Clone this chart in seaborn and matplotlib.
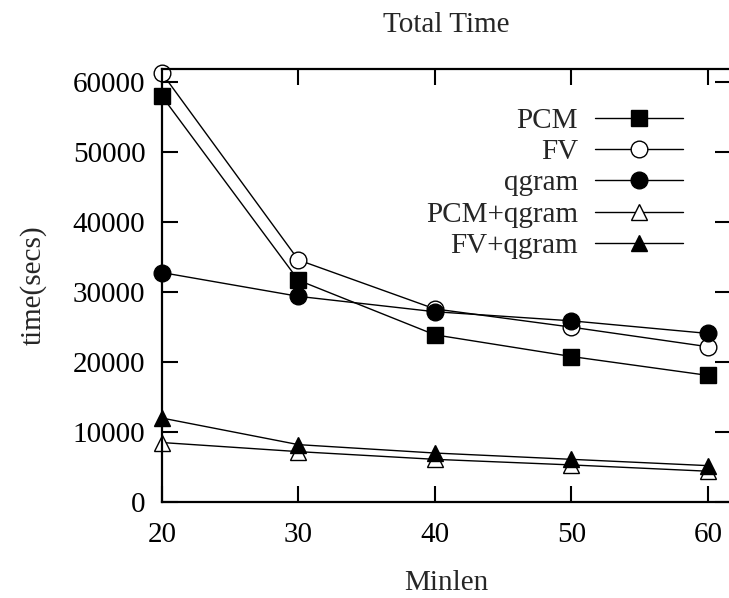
import numpy as np
import pandas as pd
import matplotlib
matplotlib.use("Agg")
import matplotlib.pyplot as plt
import seaborn as sns

# data
minlen = [20, 30, 40, 50, 60]
pcm = [58000, 31700, 23900, 20800, 18100]
fv = [61300, 34600, 27600, 25000, 22200]
qgram = [32800, 29400, 27200, 25900, 24100]
pcm_qgram = [8500, 7200, 6100, 5300, 4400]
fv_qgram = [12000, 8200, 7000, 6100, 5200]

series = ["PCM", "FV", "qgram", "PCM+qgram", "FV+qgram"]
values = [pcm, fv, qgram, pcm_qgram, fv_qgram]
markers = ["s", "o", "o", "^", "^"]
filled = [True, False, True, False, True]

sns.set_theme(style="ticks")
plt.rcParams["font.family"] = ["Liberation Serif", "DejaVu Serif"]
fs = 21

fig = plt.figure(figsize=(7.29, 5.98), dpi=100)
ax = fig.add_axes([162 / 729, 1 - 502 / 598, 569 / 729, 433 / 598])

for name, vals, m, f in zip(series, values, markers, filled):
    df = pd.DataFrame({"Minlen": minlen, "time": vals})
    sns.lineplot(data=df, x="Minlen", y="time", ax=ax, color="black",
                 linewidth=1.0, marker=m, markersize=12,
                 markeredgecolor="black", markeredgewidth=1.0,
                 markerfacecolor="black" if f else "white",
                 errorbar=None, label=name, clip_on=False)

ax.set_xlim(20, 61.7)
ax.set_ylim(0, 61900)
ax.set_xticks(minlen)
ax.set_yticks(np.arange(0, 60001, 10000))

for s in ax.spines.values():
    s.set_linewidth(1.6)
    s.set_color("black")
ax.tick_params(axis="both", direction="in", length=11.5, width=1.5,
               labelsize=fs, colors="black", top=True, right=True)
ax.tick_params(axis="x", pad=14.5)
ax.tick_params(axis="y", pad=12)

# title sits well above the frame
ax.set_title("Total Time", fontsize=fs, y=(502 - 32) / 433, pad=0)
ax.set_xlabel("Minlen", fontsize=fs, labelpad=16)
ax.set_ylabel("time(secs)", fontsize=fs, labelpad=19)

leg = ax.legend(loc="upper right", bbox_to_anchor=(0.9156, 0.9115),
                frameon=False, markerfirst=False, handlelength=3.0,
                handletextpad=0.6, labelspacing=0.17, borderpad=0,
                borderaxespad=0, fontsize=fs)

fig.savefig("out.png", dpi=100)
